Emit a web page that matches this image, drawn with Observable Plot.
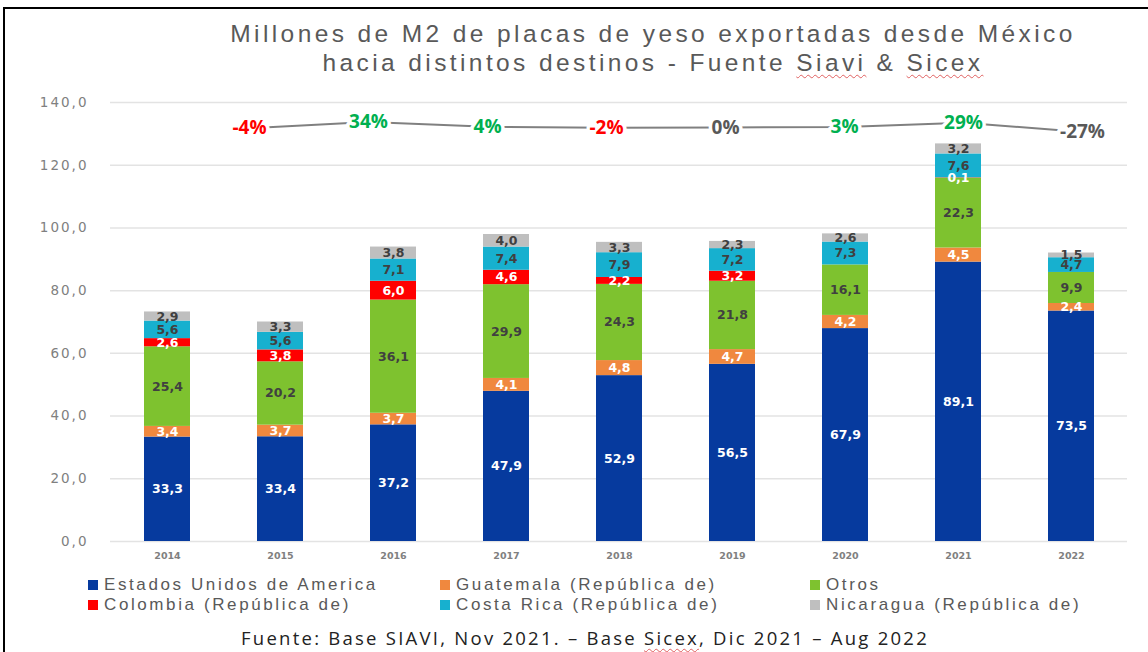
<!DOCTYPE html>
<html><head><meta charset="utf-8">
<script src="https://cdn.jsdelivr.net/npm/d3@7"></script>
<script src="https://cdn.jsdelivr.net/npm/@observablehq/plot@0.6"></script>
<style>
body{margin:0;background:#fff;width:1148px;height:652px;overflow:hidden;position:relative;font-family:"Open Sans",sans-serif;}
#frame{position:absolute;left:3px;top:7px;width:1160px;height:660px;border-left:2px solid #000;border-top:2px solid #000;box-sizing:border-box;}
.tl{position:absolute;left:0;width:1306px;text-align:center;color:#595959;font-family:"Liberation Sans",Arial,sans-serif;font-size:24.5px;line-height:28px;height:28px;letter-spacing:3.4px;white-space:nowrap;}
.sp{text-decoration:underline wavy #e06060;text-decoration-thickness:1px;text-underline-offset:3px;}
#chart{position:absolute;left:0;top:85px;}
#overlay{position:absolute;left:0;top:85px;}
.lg{position:absolute;font-family:"Liberation Sans",Arial,sans-serif;font-size:17px;color:#595959;letter-spacing:2.6px;white-space:nowrap;line-height:19px;height:19px;}
.lg i{display:inline-block;width:10px;height:10px;margin-right:6px;vertical-align:0px;}
#caption{position:absolute;left:0;top:625px;width:1170px;text-align:center;color:#222;font-size:18.5px;letter-spacing:2.25px;}
g[aria-label="y-axis tick label"] text{letter-spacing:2px;}
g[aria-label="seglabels"] text{letter-spacing:1.2px;}
</style>
</head><body>
<div id="frame"></div>
<div class="tl" style="top:20px">Millones de M2 de placas de yeso exportadas desde México</div>
<div class="tl" style="top:49px">hacia distintos destinos - Fuente <span class="sp">Siavi</span> &amp; <span class="sp">Sicex</span></div>
<div id="chart"></div>
<div id="overlay"></div>
<div id="legend"></div>
<div id="caption">Fuente: Base SIAVI, Nov 2021. – Base <span class="sp">Sicex</span>, Dic 2021 – Aug 2022</div>
<script>
const years = ["2014","2015","2016","2017","2018","2019","2020","2021","2022"];
const series = ["Estados Unidos de America","Guatemala (República de)","Otros","Colombia (República de)","Costa Rica (República de)","Nicaragua (República de)"];
const estadosUnidos = [33.3,33.4,37.2,47.9,52.9,56.5,67.9,89.1,73.5];
const guatemala = [3.4,3.7,3.7,4.1,4.8,4.7,4.2,4.5,2.4];
const otros = [25.4,20.2,36.1,29.9,24.3,21.8,16.1,22.3,9.9];
const colombia = [2.6,3.8,6.0,4.6,2.2,3.2,0,0.1,0];
const costaRica = [5.6,5.6,7.1,7.4,7.9,7.2,7.3,7.6,4.7];
const nicaragua = [2.9,3.3,3.8,4.0,3.3,2.3,2.6,3.2,1.5];
const pctYears = ["2015","2016","2017","2018","2019","2020","2021","2022"];
const pctChange = [-4,34,4,-2,0,3,29,-27];
const yTicks = [0,20,40,60,80,100,120,140];

const seriesValues = [estadosUnidos, guatemala, otros, colombia, costaRica, nicaragua];
const colors = ["#063a9e","#f0883e","#7ec22f","#ff0000","#17b0cf","#bfbfbf"];
const rows = [];
series.forEach((s, si) => years.forEach((y, i) => rows.push({year: y, series: s, value: seriesValues[si][i]})));
const fmt = v => v.toFixed(1).replace(".", ",");
const whiteSeries = new Set([series[0], series[1], series[3]]);
const labelW = d => d.value > 0 && whiteSeries.has(d.series) ? fmt(d.value) : null;
const labelD = d => d.value > 0 && !whiteSeries.has(d.series) ? fmt(d.value) : null;

const chart = Plot.plot({
  width: 1148, height: 486,
  marginTop: 17, marginBottom: 30, marginLeft: 110, marginRight: 21,
  style: {color: "#808080", fontFamily: "DejaVu Sans, sans-serif", background: "transparent"},
  x: {domain: years, paddingInner: 0.593, paddingOuter: 0.2965, label: null},
  y: {domain: [0, 140], label: null},
  color: {domain: series, range: colors},
  marks: [
    Plot.ruleY(yTicks, {stroke: "#e3e3e3", strokeWidth: 1.5}),
    Plot.barY(rows, Plot.stackY({x: "year", y: "value", fill: "series", z: "series", order: series})),
    Plot.text(rows, Plot.stackY({x: "year", y: "value", z: "series", order: series, text: labelW, fill: "white", fontSize: 12.5, fontWeight: "bold", ariaLabel: "seglabels"})),
    Plot.text(rows, Plot.stackY({x: "year", y: "value", z: "series", order: series, text: labelD, fill: "#404040", fontSize: 12.5, fontWeight: "bold", ariaLabel: "seglabels"})),
    Plot.axisY(yTicks, {tickSize: 0, tickPadding: 22, tickFormat: fmt, fontSize: 13.5, label: null}),
    Plot.axisX({tickSize: 0, tickPadding: 11, fontSize: 9.5, fontWeight: "bold", label: null})
  ]
});
document.getElementById("chart").appendChild(chart);

const pctData = pctYears.map((y, i) => ({year: y, pct: pctChange[i]}));
const pctColor = d => d.year === "2022" || d.pct === 0 ? "#595959" : (d.pct > 0 ? "#00b050" : "#ff0000");
const overlay = Plot.plot({
  width: 1148, height: 486, margin: 0,
  style: {background: "transparent", fontFamily: "Open Sans, sans-serif"},
  x: {type: "point", domain: pctYears, range: [248, 1082], padding: 0, axis: null},
  y: {domain: [-27, 34], range: [46.4, 36.4], axis: null},
  color: {type: "identity"},
  marks: [
    Plot.line(pctData, {x: "year", y: "pct", stroke: "#808080", strokeWidth: 2}),
    Plot.text(pctData, {x: "year", y: "pct", text: d => d.pct + "%", fill: pctColor, stroke: "white", strokeWidth: 7, fontSize: 19, fontWeight: "bold"})
  ]
});
document.getElementById("overlay").appendChild(overlay);

const legendPos = [[88,575],[440,575],[810,575],[88,595],[440,595],[810,595]];
const lg = document.getElementById("legend");
series.forEach((s, i) => {
  const d = document.createElement("div");
  d.className = "lg";
  d.style.left = legendPos[i][0] + "px";
  d.style.top = legendPos[i][1] + "px";
  d.innerHTML = `<i style="background:${colors[i]}"></i>${s}`;
  lg.appendChild(d);
});
</script>
</body></html>
